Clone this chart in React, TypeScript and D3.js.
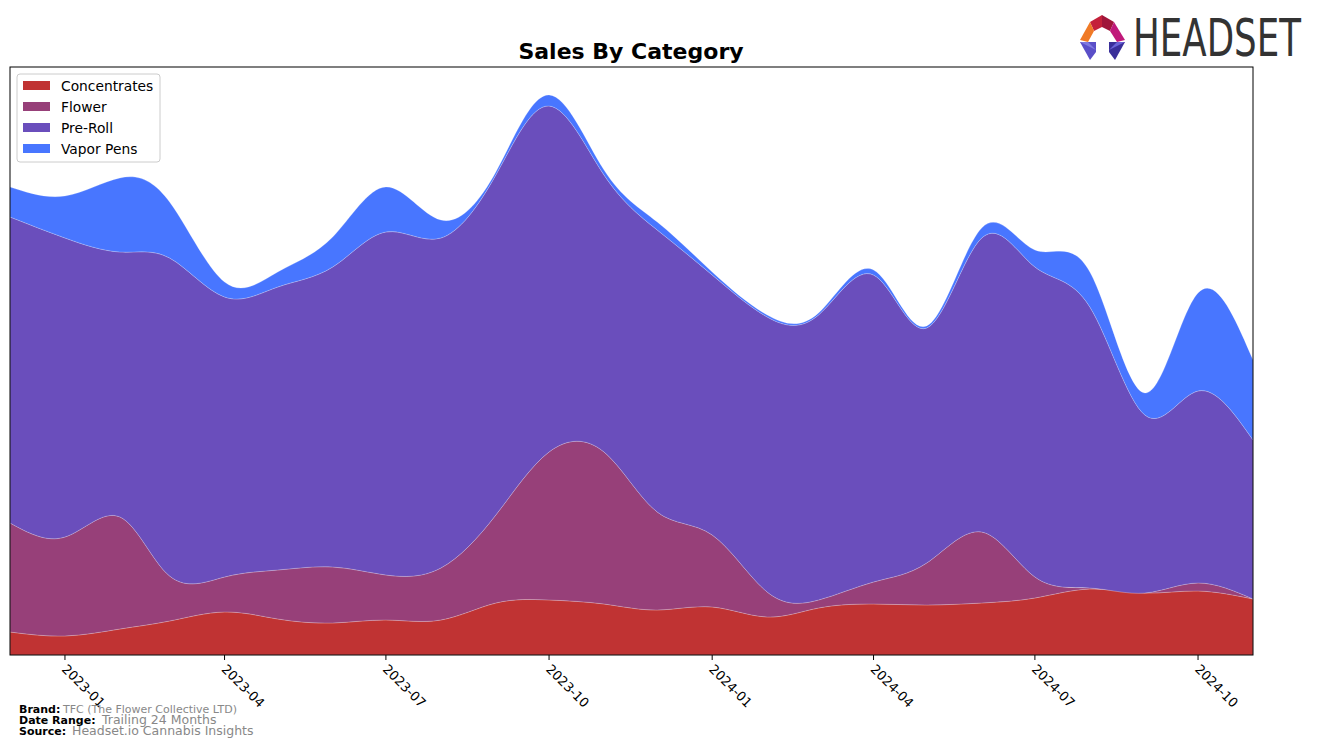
import React, { useEffect, useRef } from "react";
import * as d3 from "d3";

const months: string[] = [
  "2022-12","2023-01","2023-02","2023-03","2023-04","2023-05","2023-06","2023-07",
  "2023-08","2023-09","2023-10","2023-11","2023-12","2024-01","2024-02","2024-03",
  "2024-04","2024-05","2024-06","2024-07","2024-08","2024-09","2024-10","2024-11",
];
const categories: string[] = ["Concentrates", "Flower", "Pre-Roll", "Vapor Pens"];
const colors: string[] = ["#C03333", "#974079", "#6A4EBC", "#4876FF"];

const concentrates: number[] = [23,19,26,34,43,36,32,35,35,52,55,51,45,48,38,47,51,50,52,57,66,62,64,56];
const flower: number[] = [109,99,112,45,35,49,56,45,52,88,148,152,98,72,25,8,22,42,71,21,1,0,8,0];
const preRoll: number[] = [306,299,265,318,280,283,300,343,330,340,346,277,282,260,275,285,307,235,294,310,281,178,192,159];
const vaporPens: number[] = [30,42,74,56,15,15,30,45,18,3,11,5,8,3,2,2,5,2,10,17,35,22,98,80];

const tickLabels: string[] = ["2023-01","2023-04","2023-07","2023-10","2024-01","2024-04","2024-07","2024-10"];

export default function App() {
  const ref = useRef<SVGSVGElement>(null);
  useEffect(() => {
    const svg = d3.select(ref.current);
    svg.selectAll("*").remove();
    const L = 10, R = 1253, T = 67, B = 655;
    const parse = d3.timeParse("%Y-%m");
    const dates = months.map((m) => parse(m) as Date);
    const x = d3.scaleTime().domain([parse("2022-12") as Date, parse("2024-11") as Date]).range([L, R]);
    const y = d3.scaleLinear().domain([0, 588]).range([B, T]);

    const rows = months.map((m, i) => ({
      date: dates[i],
      "Concentrates": concentrates[i],
      "Flower": flower[i],
      "Pre-Roll": preRoll[i],
      "Vapor Pens": vaporPens[i],
    }));
    const stack = d3.stack<any>().keys(categories);
    const series = stack(rows);

    svg.append("defs").append("clipPath").attr("id", "plotclip")
      .append("rect").attr("x", L).attr("y", T).attr("width", R - L).attr("height", B - T);

    // title
    svg.append("text").attr("x", 631).attr("y", 59).attr("text-anchor", "middle")
      .attr("font-family", "DejaVu Sans").attr("font-weight", "bold").attr("font-size", 22)
      .text("Sales By Category");

    const area = d3.area<any>()
      .x((d) => x(d.data.date))
      .y0((d) => y(d[0]))
      .y1((d) => y(d[1]))
      .curve(d3.curveNatural);

    const g = svg.append("g").attr("clip-path", "url(#plotclip)");
    series.forEach((s, i) => {
      g.append("path").datum(s).attr("d", area as any).attr("fill", colors[i])
        .attr("stroke", "#ffffff").attr("stroke-opacity", 0.25).attr("stroke-width", 0.8);
    });

    // frame
    svg.append("rect").attr("x", L).attr("y", T).attr("width", R - L).attr("height", B - T)
      .attr("fill", "none").attr("stroke", "#000").attr("stroke-width", 1);

    // x ticks
    tickLabels.forEach((t) => {
      const xx = x(parse(t) as Date);
      svg.append("line").attr("x1", xx).attr("x2", xx).attr("y1", B).attr("y2", B + 5)
        .attr("stroke", "#000").attr("stroke-width", 1);
      svg.append("text").attr("transform", `translate(${xx + 3},${B + 8}) rotate(45)`)
        .attr("font-family", "DejaVu Sans").attr("font-size", 13).attr("dy", "0.75em")
        .attr("text-anchor", "start").text(t);
    });

    // legend
    const lg = svg.append("g");
    lg.append("rect").attr("x", 17).attr("y", 74).attr("width", 143).attr("height", 88)
      .attr("rx", 3).attr("fill", "#fff").attr("fill-opacity", 0.8).attr("stroke", "#ccc");
    categories.forEach((c, i) => {
      const yy = 86 + i * 21;
      lg.append("rect").attr("x", 23).attr("y", yy - 5).attr("width", 27).attr("height", 9).attr("fill", colors[i]);
      lg.append("text").attr("x", 61).attr("y", yy + 5).attr("font-family", "DejaVu Sans").attr("font-size", 13.8).text(c);
    });

    // footer
    const foot = [
      { b: "Brand:", v: "TFC (The Flower Collective LTD)", y: 713, vx: 63, vs: 11 },
      { b: "Date Range:", v: "Trailing 24 Months", y: 724, vx: 102, vs: 12.5 },
      { b: "Source:", v: "Headset.io Cannabis Insights", y: 735, vx: 72, vs: 12.5 },
    ];
    foot.forEach((f) => {
      svg.append("text").attr("x", 19).attr("y", f.y).attr("font-family", "DejaVu Sans").attr("font-weight", "bold")
        .attr("font-size", 11).text(f.b);
      svg.append("text").attr("x", f.vx).attr("y", f.y).attr("font-family", "DejaVu Sans").attr("fill", "#888")
        .attr("font-size", f.vs).text(f.v);
    });

    // logo
    const lo = svg.append("g");
    const polys: [string, string][] = [
      ["1090,22 1102,15 1102,27 1094,31", "#C4213A"],
      ["1102,15 1114,22 1110,31 1102,27", "#A0163A"],
      ["1080,40 1090,22 1094,31 1088,42", "#F07A26"],
      ["1114,22 1125,40 1117,42 1110,31", "#C0197A"],
      ["1080,42 1096,42 1096,52 1090,60", "#5A4FC8"],
      ["1080,42 1088,42 1096,50", "#7F79E0"],
      ["1109,42 1125,42 1115,60 1109,52", "#3A2F9A"],
      ["1117,42 1125,42 1109,50", "#6B63D8"],
    ];
    polys.forEach(([p, c]) => lo.append("polygon").attr("points", p).attr("fill", c));
    lo.append("text").attr("x", 1133).attr("y", 56).attr("font-family", "DejaVu Sans").attr("font-size", 52)
      .attr("fill", "#333").attr("textLength", 168).attr("lengthAdjust", "spacingAndGlyphs").text("HEADSET");
  }, []);
  return (
    <svg ref={ref} width={1317} height={747} style={{ position: "absolute", left: 0, top: 0, background: "#fff" }} />
  );
}
